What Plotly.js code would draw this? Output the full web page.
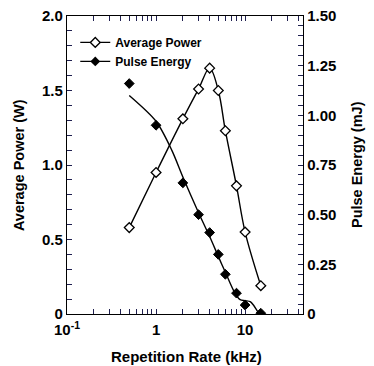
<!DOCTYPE html>
<html>
<head>
<meta charset="utf-8">
<script src="https://cdn.plot.ly/plotly-3.0.1.min.js"></script>
<style>html,body{margin:0;padding:0;background:#fff;}#chart{width:374px;height:366px;}</style>
</head>
<body>
<div id="chart"></div>
<script>
// Data
const rateKHz = [0.5, 1, 2, 3, 4, 5, 6, 8, 10, 15];
const avgPowerW = [0.58, 0.95, 1.31, 1.51, 1.65, 1.50, 1.23, 0.86, 0.55, 0.19];
const pulseRateKHz = [0.5, 1, 2, 3, 4, 5, 6, 8, 10, 15];
const pulseEnergyMJ = [1.16, 0.95, 0.66, 0.50, 0.41, 0.30, 0.20, 0.105, 0.045, 0.004];
// Fitted curve for pulse energy
const fitRateKHz = [0.5, 1, 1.5, 2, 3, 4, 5, 6, 7.7, 8.8, 10, 11.4, 12.4, 13.5, 14.5];
const fitEnergyMJ = [1.10, 0.97, 0.825, 0.69, 0.51, 0.39, 0.29, 0.21, 0.104, 0.072, 0.067, 0.062, 0.045, 0.02, 0.0];

// Tick positions and labels (labelled ticks plus unlabelled minor ticks)
const xTickVals = [0.1, 0.2, 0.3, 0.4, 0.5, 0.6, 0.7, 0.8, 0.9, 1, 2, 3, 4, 5, 6, 7, 8, 9, 10, 20, 30, 40];
const xTickText = ['10<sup>-1</sup>', '', '', '', '', '', '', '', '', '1', '', '', '', '', '', '', '', '', '10', '', '', ''];
const yTickVals = [0, 0.1, 0.2, 0.3, 0.4, 0.5, 0.6, 0.7, 0.8, 0.9, 1.0, 1.1, 1.2, 1.3, 1.4, 1.5, 1.6, 1.7, 1.8, 1.9, 2.0];
const yTickText = ['0', '', '', '', '', '0.5', '', '', '', '', '1.0', '', '', '', '', '1.5', '', '', '', '', '2.0'];
const y2TickVals = [0, 0.05, 0.1, 0.15, 0.2, 0.25, 0.3, 0.35, 0.4, 0.45, 0.5, 0.55, 0.6, 0.65, 0.7, 0.75,
                    0.8, 0.85, 0.9, 0.95, 1.0, 1.05, 1.1, 1.15, 1.2, 1.25, 1.3, 1.35, 1.4, 1.45, 1.5];
const y2TickText = ['0', '', '', '', '', '0.25', '', '', '', '', '0.50', '', '', '', '', '0.75',
                    '', '', '', '', '1.00', '', '', '', '', '1.25', '', '', '', '', '1.50'];

const FONT = 'Liberation Sans, Arial, Helvetica, sans-serif';
const TICK = 'rgb(32,32,80)';

const traces = [
  {
    x: rateKHz, y: avgPowerW, name: 'Average Power', type: 'scatter',
    mode: 'lines+markers', line: {color: '#000', width: 1.4, shape: 'spline', smoothing: 1},
    marker: {symbol: 'diamond', size: 7.5, color: '#fff', line: {color: '#000', width: 1.3}},
    xaxis: 'x', yaxis: 'y'
  },
  {
    x: fitRateKHz, y: fitEnergyMJ, name: 'fit', type: 'scatter', mode: 'lines',
    line: {color: '#000', width: 1.4, shape: 'spline', smoothing: 0.8},
    showlegend: false, xaxis: 'x', yaxis: 'y2', hoverinfo: 'skip'
  },
  {
    x: pulseRateKHz, y: pulseEnergyMJ, name: 'Pulse Energy', type: 'scatter', mode: 'markers',
    marker: {symbol: 'diamond', size: 7.5, color: '#000', line: {color: '#000', width: 1}},
    showlegend: false, xaxis: 'x', yaxis: 'y2'
  },
  {
    x: [null], y: [null], name: 'Pulse Energy', type: 'scatter', mode: 'lines+markers',
    line: {color: '#000', width: 1.2},
    marker: {symbol: 'diamond', size: 7.5, color: '#000'},
    xaxis: 'x', yaxis: 'y2'
  }
];

const layout = {
  width: 374, height: 366,
  margin: {l: 67, r: 71, t: 16, b: 52, pad: 0},
  paper_bgcolor: '#fff', plot_bgcolor: '#fff',
  font: {family: FONT, color: '#000', size: 14},
  showlegend: true,
  legend: {x: 0.035, y: 0.96, xanchor: 'left', yanchor: 'top', bgcolor: 'rgba(0,0,0,0)',
           font: {family: FONT, size: 12, color: '#000', weight: 'bold'}, tracegroupgap: 0, itemwidth: 30},
  xaxis: {
    type: 'log', range: [-1, 1.65], showgrid: false, zeroline: false,
    showline: true, linecolor: '#000', linewidth: 1.2, mirror: 'ticks',
    ticks: 'inside', ticklen: 5, tickwidth: 1, tickcolor: TICK,
    tickmode: 'array', tickvals: xTickVals, ticktext: xTickText, ticklabelstandoff: 2,
    tickfont: {family: FONT, size: 15, weight: 'bold'}
  },
  yaxis: {
    range: [0, 2.0], showgrid: false, zeroline: false,
    showline: true, linecolor: '#000', linewidth: 1.2,
    ticks: 'inside', ticklen: 5, tickwidth: 1, tickcolor: TICK,
    tickmode: 'array', tickvals: yTickVals, ticktext: yTickText,
    tickfont: {family: FONT, size: 15, weight: 'bold'}
  },
  yaxis2: {
    overlaying: 'y', side: 'right', range: [0, 1.5], showgrid: false, zeroline: false,
    showline: true, linecolor: '#000', linewidth: 1.2,
    ticks: 'inside', ticklen: 5, tickwidth: 1, tickcolor: TICK,
    tickmode: 'array', tickvals: y2TickVals, ticktext: y2TickText,
    tickfont: {family: FONT, size: 15, weight: 'bold'}
  },
  annotations: [
    {text: 'Average Power (W)', xref: 'paper', yref: 'paper', x: -0.203, y: 0.5, textangle: -90,
     showarrow: false, xanchor: 'center', yanchor: 'middle', font: {family: FONT, size: 14.5, weight: 'bold'}},
    {text: 'Pulse Energy (mJ)', xref: 'paper', yref: 'paper', x: 1.229, y: 0.5, textangle: -90,
     showarrow: false, xanchor: 'center', yanchor: 'middle', font: {family: FONT, size: 14.5, weight: 'bold'}},
    {text: 'Repetition Rate (kHz)', xref: 'paper', yref: 'paper', x: 0.508, y: -0.144,
     showarrow: false, xanchor: 'center', yanchor: 'middle', font: {family: FONT, size: 15, weight: 'bold'}}
  ]
};

Plotly.newPlot('chart', traces, layout, {displayModeBar: false, staticPlot: true});
</script>
</body>
</html>
